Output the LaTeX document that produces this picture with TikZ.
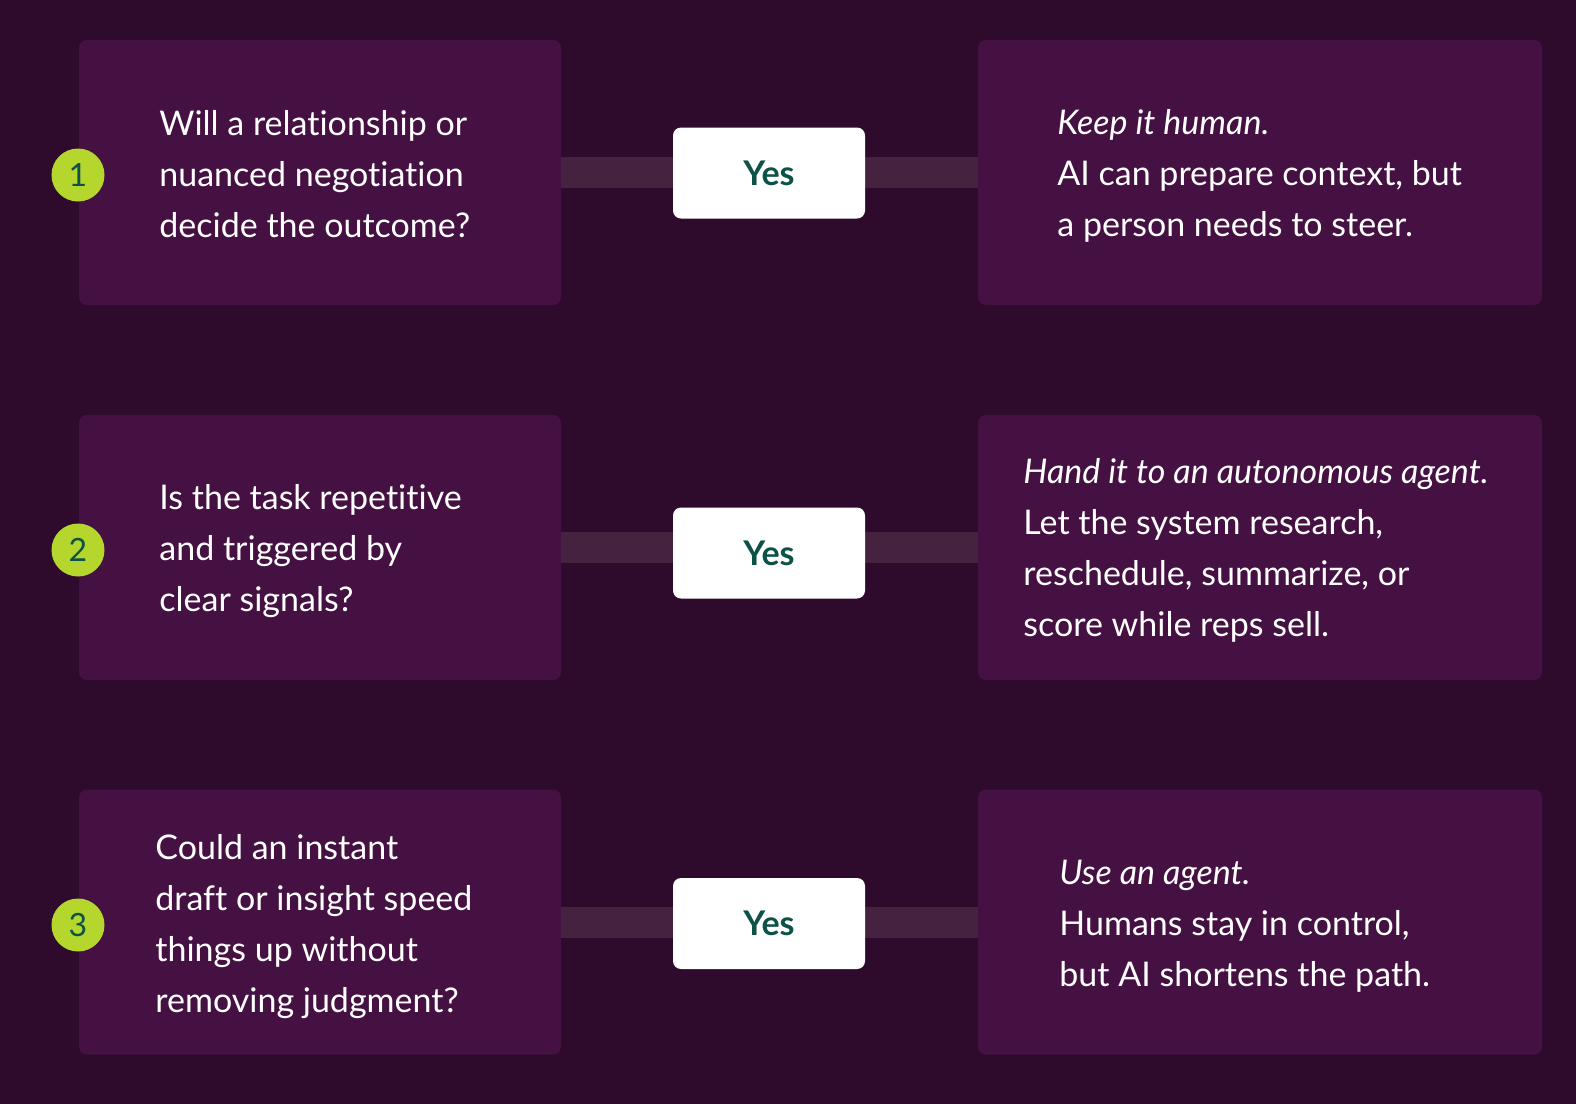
\documentclass[tikz,border=0pt]{standalone}
\usepackage{fontspec}
\setmainfont{Lato}[RawFeature={-liga;-clig;-calt;-dlig;-rlig}]
\usetikzlibrary{positioning}
\definecolor{NightPlum}{HTML}{2E0B2D}
\definecolor{CardPlum}{HTML}{451042}
\definecolor{BarPlum}{HTML}{45223F}
\definecolor{LimeBadge}{HTML}{B5D62C}
\definecolor{PineText}{HTML}{0D5246}

\begin{document}
\begin{tikzpicture}[x=0.5pt, y=-0.5pt,
    card/.style={fill=CardPlum, rounded corners=4pt, minimum height=132.5pt, inner sep=0pt},
    qcard/.style={card, minimum width=241pt},
    acard/.style={card, minimum width=282pt},
    yesbox/.style={fill=white, rounded corners=4pt, minimum width=96pt, minimum height=45.5pt,
        text=PineText, font=\fontsize{17}{20}\selectfont\bfseries},
    badge/.style={circle, fill=LimeBadge, minimum size=26.5pt, inner sep=0pt,
        text=PineText, font=\fontsize{16}{18}\selectfont},
    cardtext/.style={anchor=west, align=left, text=white, inner sep=0pt,
        font=\fontsize{17}{25.5}\selectfont},
    bar/.style={draw=BarPlum, line width=15.5pt}]
    % Background
    \fill[NightPlum] (0,0) rectangle (1576,1104);
    \useasboundingbox (0,0) rectangle (1576,1104);

    % Question and answer cards
    \node[qcard] (q1) at (320,172.5) {};
    \node[qcard] (q2) at (320,547.5) {};
    \node[qcard] (q3) at (320,922) {};
    \node[acard] (a1) at (1260,172.5) {};
    \node[acard] (a2) at (1260,547.5) {};
    \node[acard] (a3) at (1260,922) {};

    % Bars between the cards
    \foreach \i in {1,2,3} {
        \draw[bar] (q\i.east) -- (a\i.west);
    }

    % Yes labels
    \node[yesbox] (y1) at (769,173) {Yes};
    \node[yesbox] (y2) at (769,553) {Yes};
    \node[yesbox] (y3) at (769,923.5) {Yes};

    % Number badges
    \node[badge] (b1) at (78,175) {1};
    \node[badge] (b2) at (78,550) {2};
    \node[badge] (b3) at (78,925) {3};

    % Questions
    \node[cardtext] (qt1) at (159,174.5) {Will a relationship or\\nuanced negotiation\\decide the outcome?};
    \node[cardtext] (qt2) at (159,551.5) {Is the task repetitive\\and triggered by\\clear signals?};
    \node[cardtext] (qt3) at (155,926.5) {Could an instant\\draft or insight speed\\things up without\\removing judgment?};

    % Answers
    \node[cardtext] (at1) at (1057,175.5) {\textit{Keep it human.}\\AI can prepare context, but\\a person needs to steer.};
    \node[cardtext] (at2) at (1023,550.5) {\textit{Hand it to an autonomous agent.}\\Let the system research,\\reschedule, summarize, or\\score while reps sell.};
    \node[cardtext] (at3) at (1059,926) {\textit{Use an agent.}\\Humans stay in control,\\but AI shortens the path.};
\end{tikzpicture}
\end{document}
